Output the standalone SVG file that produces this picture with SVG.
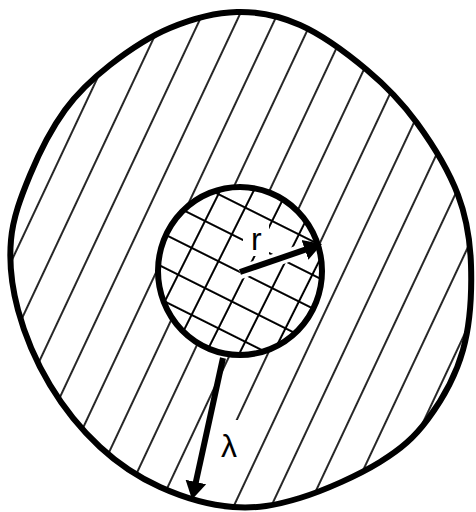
<svg xmlns="http://www.w3.org/2000/svg" width="476" height="512" viewBox="0 0 476 512">
<style>
.bold{fill:none;stroke:#000;stroke-width:6}
.hl{stroke:#000;stroke-width:1.7}
.gl{stroke:#000;stroke-width:2}
.arrow{fill:none;stroke:#000;stroke-width:6;marker-end:url(#head)}
.lbl{font-family:"Liberation Sans",Arial,sans-serif;fill:#000}
</style>
<defs>
<path id="outerShape" d="M237,12 C258.67,11.5 278.33,15.33 300,25 C321.67,34.67 347.5,53.67 367,70 C386.5,86.33 401.83,102.17 417,123 C432.17,143.83 449,171.33 458,195 C467,218.67 470.17,239.17 471,265 C471.83,290.83 470.17,324.33 463,350 C455.83,375.67 441.83,400.33 428,419 C414.17,437.67 401.33,448.83 380,462 C358.67,475.17 324.5,490.5 300,498 C275.5,505.5 256.33,508.83 233,507 C209.67,505.17 182.17,497 160,487 C137.83,477 118.33,464 100,447 C81.67,430 63.67,407.83 50,385 C36.33,362.17 24.5,334.17 18,310 C11.5,285.83 9,262.5 11,240 C13,217.5 21,196.67 30,175 C39,153.33 51.67,128.33 65,110 C78.33,91.67 92.5,78.67 110,65 C127.5,51.33 148.83,36.83 170,28 C191.17,19.17 215.33,12.5 237,12 Z"/>
<pattern id="hatch" patternUnits="userSpaceOnUse" x="23.03" y="0" width="33.94" height="40" patternTransform="rotate(25.17 40 280)">
<line x1="16.97" y1="-1" x2="16.97" y2="41" class="hl"/>
</pattern>
<pattern id="grid" patternUnits="userSpaceOnUse" x="190" y="206" width="30" height="30" patternTransform="rotate(26.57 205 221)">
<line x1="15" y1="-1" x2="15" y2="31" class="gl"/>
<line x1="-1" y1="15" x2="31" y2="15" class="gl"/>
</pattern>
<mask id="outerMask" maskUnits="userSpaceOnUse" x="0" y="0" width="476" height="512">
<rect width="476" height="512" fill="#fff"/>
<polygon points="229,420 247,420 206,506 186,506" fill="#000"/>
</mask>
<mask id="innerMask" maskUnits="userSpaceOnUse" x="0" y="0" width="476" height="512">
<rect width="476" height="512" fill="#fff"/>
<rect x="243" y="224" width="26" height="32" fill="#000"/>
<line x1="240" y1="272.5" x2="312" y2="247" stroke="#000" stroke-width="13"/>
</mask>
<marker id="head" markerUnits="userSpaceOnUse" markerWidth="20" markerHeight="24" refX="5" refY="12" orient="auto" viewBox="0 0 20 24">
<path d="M0,1.5 L18,12 L0,22.5 Z" fill="#000"/>
</marker>
</defs>
<rect width="476" height="512" fill="#fff"/>
<g id="outer-region">
<use href="#outerShape" fill="url(#hatch)" mask="url(#outerMask)"/>
<use href="#outerShape" class="bold"/>
</g>
<g id="inner-region">
<ellipse cx="240" cy="271" rx="82" ry="84" fill="#fff"/>
<ellipse cx="240" cy="271" rx="82" ry="84" fill="url(#grid)" mask="url(#innerMask)"/>
<ellipse cx="240" cy="271" rx="82" ry="84" class="bold"/>
</g>
<g id="connectors">
<line x1="240" y1="272" x2="309.7" y2="248.2" class="arrow"/>
<line x1="223" y1="358" x2="194.8" y2="486.8" class="arrow"/>
</g>
<g id="labels">
<text x="251" y="250" font-size="32" class="lbl">r</text>
<text x="229" y="457" font-size="32" text-anchor="middle" class="lbl">λ</text>
</g>
</svg>
